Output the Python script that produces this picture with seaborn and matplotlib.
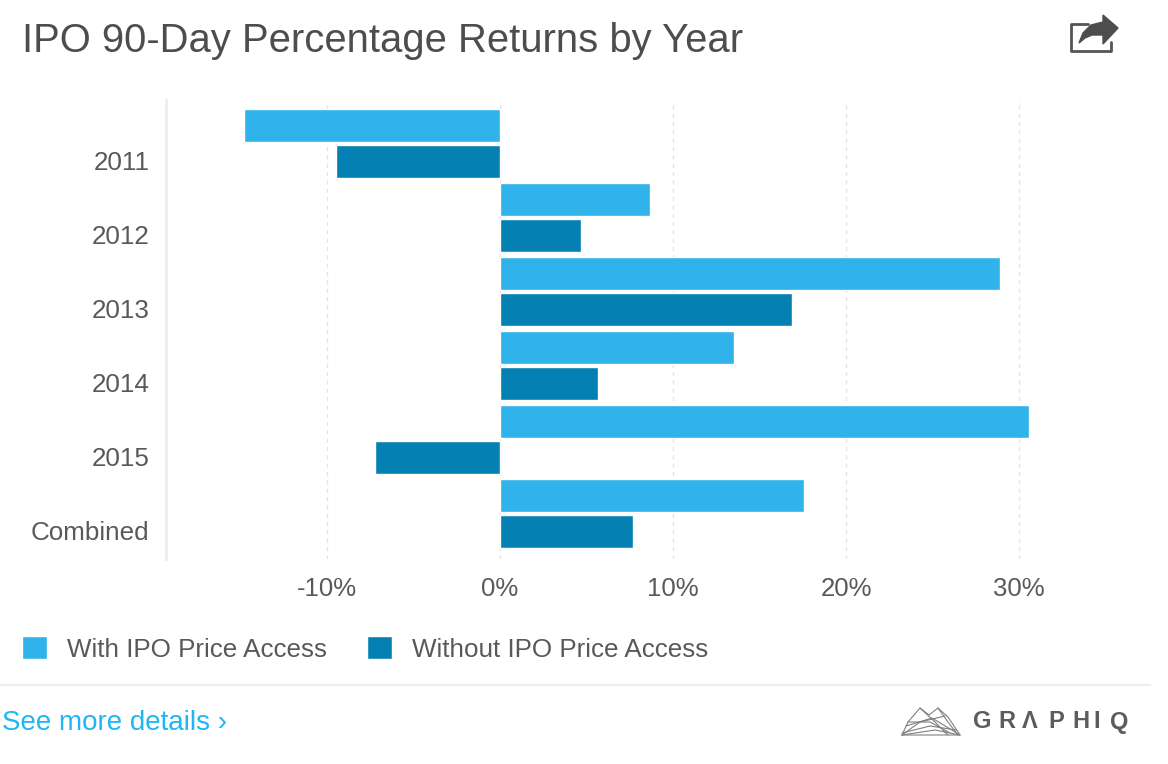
import pandas as pd
import seaborn as sns
import matplotlib.pyplot as plt
from matplotlib.lines import Line2D
from matplotlib.patches import Polygon
from matplotlib.ticker import FuncFormatter
from matplotlib.transforms import ScaledTranslation

W, H = 1168, 764

years = ["2011", "2012", "2013", "2014", "2015", "Combined"]
with_access = [-14.8, 8.65, 28.9, 13.5, 30.6, 17.6]
without_access = [-9.5, 4.7, 16.9, 5.65, -7.2, 7.7]
series_names = ["With IPO Price Access", "Without IPO Price Access"]
colors = ["#2FB3EA", "#0480B3"]
xticks = [-10, 0, 10, 20, 30]

df = pd.DataFrame({"year": years, series_names[0]: with_access, series_names[1]: without_access})
df = df.melt(id_vars="year", var_name="series", value_name="ret")

sns.set_theme(style="white")
plt.rcParams["font.family"] = ["Liberation Sans", "DejaVu Sans"]
text_color = "#595959"

fig = plt.figure(figsize=(W / 100, H / 100), dpi=100)
# axes placed in pixel terms: spine at x=166, plot from y=100 to y=559
ax = fig.add_axes([166 / W, 1 - 559 / H, (1150 - 166) / W, (559 - 100) / H])

sns.barplot(data=df, y="year", x="ret", hue="series", hue_order=series_names, palette=colors,
            width=0.973, gap=0.11, saturation=1, ax=ax, zorder=3)

ax.set_xlim((166 - 500) / 17.3, (1150 - 500) / 17.3)
ax.set_ylim(5 + (559 - 513.5) / 74.0, -(143.5 - 100) / 74.0)
ax.set_xlabel("")
ax.set_ylabel("")
ax.set_xticks(xticks)
ax.xaxis.set_major_formatter(FuncFormatter(lambda v, p: f"{v:.0f}%"))
ax.tick_params(axis="x", length=0, pad=13, labelsize=18.5, labelcolor=text_color)
ax.tick_params(axis="y", length=0, pad=12, labelsize=18.7, labelcolor=text_color)
ax.grid(axis="x", color="#e4e4e4", linestyle=(0, (3, 3)), linewidth=1, zorder=0)
ax.set_axisbelow(True)

# year labels sit lower than the middle of their bar pair
shift = ScaledTranslation(0, -17.5 / 100, fig.dpi_scale_trans)
for lab in ax.get_yticklabels():
    lab.set_transform(lab.get_transform() + shift)

sns.despine(ax=ax, top=True, right=True, bottom=True)
ax.spines["left"].set_color("#eeeeee")
ax.spines["left"].set_linewidth(2)

ax.legend(loc="center left", bbox_to_anchor=((22 - 166) / (1150 - 166), (559 - 649) / (559 - 100)),
          ncol=2, frameon=False, fontsize=18.7, labelcolor=text_color, handlelength=0.96, handleheight=0.96,
          handletextpad=0.77, columnspacing=1.55, borderaxespad=0, borderpad=0)

fig.text(22 / W, 1 - 41 / H, "IPO 90-Day Percentage Returns by Year", fontsize=28.8, color="#4d4d4d",
         va="center", ha="left")
fig.text(2 / W, 1 - 723 / H, "See more details \u203a", fontsize=20, color="#1FB6F6", va="center", ha="left")

# logo wordmark, letters spaced by hand
for ch, x in zip("GR\u039bPHIQ", [973, 998, 1022, 1048, 1072, 1093, 1110]):
    fig.text(x / W, 1 - 722 / H, ch, fontsize=17, color="#5c5c5c", va="center", ha="left", fontweight="bold")

# separator line
fig.add_artist(Line2D([0, 1150 / W], [1 - 685 / H] * 2, color="#eeeeee", linewidth=1.5))


def px(points):
    return [(x / W, 1 - y / H) for x, y in points]


# share icon, top right
fig.add_artist(Line2D(*zip(*px([(1088, 24), (1071, 24), (1071, 51), (1111, 51), (1111, 42)])), color="#555555", linewidth=2))
fig.add_artist(Polygon(px([(1079, 43), (1083, 33), (1091, 25), (1103, 22), (1103, 15), (1118, 28), (1103, 44), (1103, 35), (1092, 35), (1085, 38)]),
                       closed=True, color="#4d4d4d", transform=fig.transFigure))

# mountain logo
logo_lines = [
    [(902, 735), (908, 722), (920, 708), (929, 715), (938, 708), (948, 717), (960, 735), (902, 735)],
    [(902, 735), (920, 722), (945, 716)],
    [(902, 733), (930, 726), (956, 730)],
    [(906, 726), (932, 718), (960, 735)],
    [(902, 735), (935, 730), (960, 735)],
    [(908, 722), (930, 722), (950, 733)],
    [(920, 708), (935, 722), (948, 735)],
    [(938, 708), (948, 722), (958, 735)],
]
for seg in logo_lines:
    fig.add_artist(Line2D(*zip(*px(seg)), color="#808080", linewidth=0.8))

fig.savefig("out.png", dpi=100, facecolor="white")
